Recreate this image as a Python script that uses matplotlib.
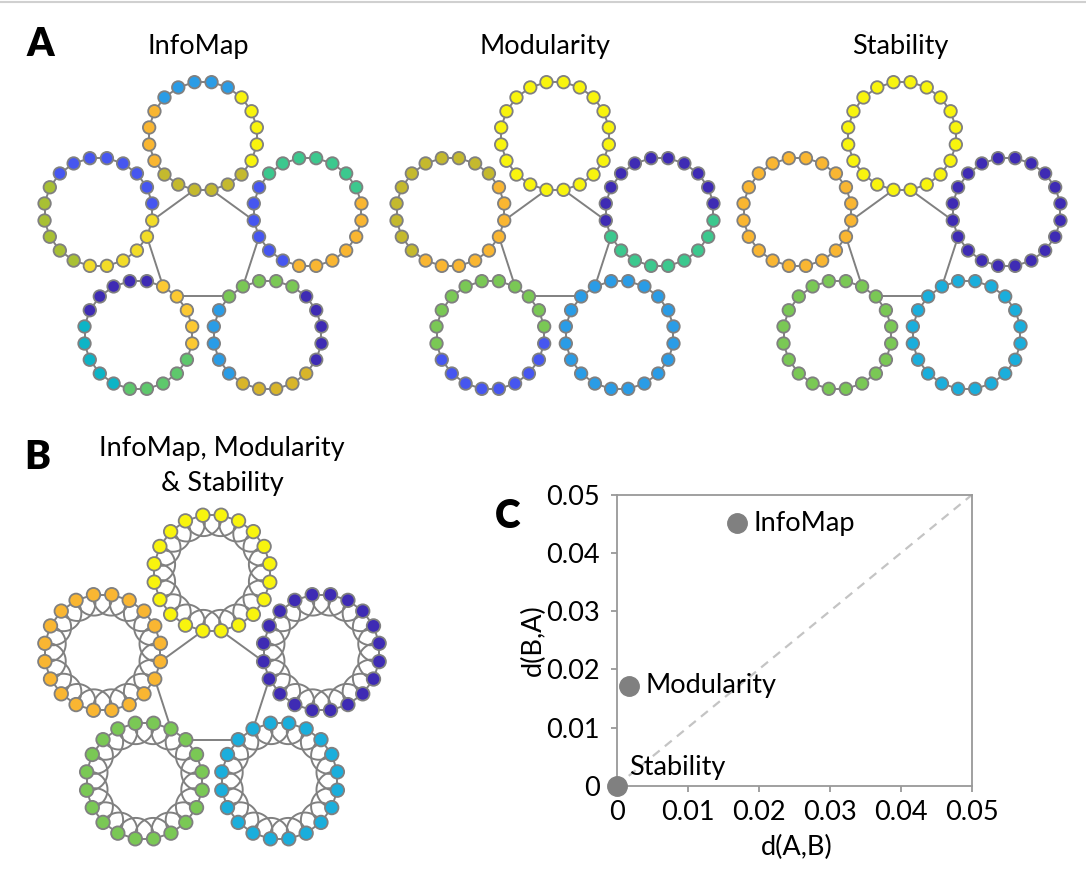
import numpy as np
import matplotlib
matplotlib.use("Agg")
import matplotlib.pyplot as plt
from matplotlib.collections import LineCollection

plt.rcParams['font.family'] = ['Lato', 'DejaVu Sans']

# ---------------------------------------------------------------------------
# Ring-of-rings network: 5 rings x 20 nodes. Each ring string lists the
# community colour code of nodes 0..19, clockwise from the inter-ring connector.
# Ring order (clockwise): top, right, bottom-right, bottom-left, left.
# ---------------------------------------------------------------------------
palette = {
    'D': '#3e2bb4',  # dark violet
    'B': '#4656f0',  # royal blue
    'L': '#2a9ce6',  # light blue
    'S': '#1aaedc',  # sky blue
    'C': '#0db4c6',  # cyan
    'T': '#3cc88e',  # teal
    'G': '#7ac855',  # green
    'E': '#5ec86c',  # green (second shade)
    'X': '#a8c034',  # yellow-green
    'O': '#c4b92e',  # olive
    'K': '#d8b52a',  # gold
    'W': '#fcc932',  # amber
    'Z': '#f2dc28',  # lemon
    'A': '#f9b632',  # orange
    'Y': '#f8f40e',  # yellow
}

infomap_rings = [
    "OOOAAAALLLLLYYYYYOOO",
    "BBBTTTTTTTAAAAAAABBB",
    "GGGGDDDDDKKKKKLLLLLG",
    "WWWWEEEEECCCCCDDDDDW",
    "ZZZZZXXXXXXBBBBBBBBZ",
]
modularity_rings = [
    "YYYYYYYYYYYYYYYYYYYY",
    "DDDDDDDDDDDTTTTTTTTT",
    "LLLLLLLLLLLLLLLLLLLL",
    "GGGBBBBBBBBBGGGGGGGG",
    "AAAAAAOOOOOOOOOOOAAA",
]
stability_rings = [
    "YYYYYYYYYYYYYYYYYYYY",
    "DDDDDDDDDDDDDDDDDDDD",
    "SSSSSSSSSSSSSSSSSSSS",
    "GGGGGGGGGGGGGGGGGGGG",
    "AAAAAAAAAAAAAAAAAAAA",
]

# Panel C: asymmetric distances between partitions
methods = ['InfoMap', 'Modularity', 'Stability']
d_ab = [0.0169, 0.0018, 0.0]
d_ba = [0.0451, 0.0172, 0.0]
axis_ticks = [0, 0.01, 0.02, 0.03, 0.04, 0.05]
tick_labels = ['0', '0.01', '0.02', '0.03', '0.04', '0.05']

W, H = 1086, 872
fig = plt.figure(figsize=(W / 100, H / 100), dpi=100)
canvas = fig.add_axes([0, 0, 1, 1])
canvas.set_xlim(0, W)
canvas.set_ylim(H, 0)
canvas.axis('off')

EDGE = '#808080'
N_RING, N_NODE = 5, 20


def ring_layout(cx, cy, dist, rad):
    """Node positions (screen pixels, y down) for the ring-of-rings graph."""
    pos = np.zeros((N_RING, N_NODE, 2))
    centres = np.zeros((N_RING, 2))
    for k in range(N_RING):
        psi = np.deg2rad(90 - 72 * k)
        rcx, rcy = cx + dist * np.cos(psi), cy - dist * np.sin(psi)
        for j in range(N_NODE):
            a = psi + np.pi - np.deg2rad(9 + 18 * j)
            pos[k, j] = (rcx + rad * np.cos(a), rcy - rad * np.sin(a))
        centres[k] = (rcx, rcy)
    return pos, centres


def draw_network(cx, cy, rings, dist, rad, node_px, second_links=False):
    pos, centres = ring_layout(cx, cy, dist, rad)
    segs = []
    for k in range(N_RING):
        for j in range(N_NODE):
            segs.append([pos[k, j], pos[k, (j + 1) % N_NODE]])
        segs.append([pos[k, 0], pos[(k - 1) % N_RING, N_NODE - 1]])
    canvas.add_collection(LineCollection(segs, colors=EDGE, linewidths=1.4, zorder=1))

    if second_links:
        arcs = []
        t = np.linspace(0, np.pi, 30)
        for k in range(N_RING):
            for j in range(N_NODE):
                p0, p2 = pos[k, j], pos[k, (j + 2) % N_NODE]
                mid = (p0 + p2) / 2
                half = (p2 - p0) / 2
                hl = np.hypot(*half)
                n = centres[k] - mid
                n = n / np.hypot(*n)
                pts = mid + np.outer(np.cos(t), half) + np.outer(np.sin(t), n * hl)
                arcs.append(pts)
        canvas.add_collection(LineCollection(arcs, colors=EDGE, linewidths=1.4, zorder=1))

    cols = [palette[c] for ring in rings for c in ring]
    d_pt = node_px * 72 / 100
    canvas.scatter(pos[:, :, 0].ravel(), pos[:, :, 1].ravel(), s=d_pt ** 2,
                   c=cols, edgecolors=EDGE, linewidths=1.3, zorder=3)


# Panel A: three partitions
draw_network(203, 246, infomap_rings, 110, 54.5, 12.5)
draw_network(555, 246, modularity_rings, 110, 54.5, 12.5)
draw_network(902, 246, stability_rings, 110, 54.5, 12.5)

# Panel B: network with second-neighbour links, common partition
draw_network(212, 688, stability_rings, 115, 58.5, 13.5, second_links=True)

title_fs = 19.5
canvas.text(27, 56, 'A', fontsize=28, fontweight='heavy', ha='left', va='baseline')
canvas.text(24, 469, 'B', fontsize=28, fontweight='heavy', ha='left', va='baseline')
canvas.text(495, 528, 'C', fontsize=28, fontweight='heavy', ha='left', va='baseline')
canvas.text(198, 54, 'InfoMap', fontsize=title_fs, ha='center', va='baseline')
canvas.text(545, 54, 'Modularity', fontsize=title_fs, ha='center', va='baseline')
canvas.text(900, 54, 'Stability', fontsize=title_fs, ha='center', va='baseline')
canvas.text(222, 456, 'InfoMap, Modularity', fontsize=title_fs, ha='center', va='baseline')
canvas.text(222, 491, '& Stability', fontsize=title_fs, ha='center', va='baseline')
canvas.plot([0, W], [2, 2], color='#d0d0d0', lw=1.5)

# Panel C: scatter of d(A,B) vs d(B,A)
ax = fig.add_axes([616.7 / W, (H - 785.7) / H, 355 / W, 290.7 / H])
ax.set_xlim(0, 0.05)
ax.set_ylim(0, 0.05)
ax.plot([0, 0.05], [0, 0.05], ls=(0, (4, 3)), color='#c4c4c4', lw=1.6, zorder=1)
ax.scatter(d_ab, d_ba, s=14 ** 2, color='#808080', zorder=3, clip_on=False)
offsets = {'InfoMap': (12, 0), 'Modularity': (11.5, 0), 'Stability': (9, 13)}
for m, x, y in zip(methods, d_ab, d_ba):
    ax.annotate(m, (x, y), xytext=offsets[m], textcoords='offset points',
                ha='left', va='center', fontsize=19.5, annotation_clip=False)
for sp in ax.spines.values():
    sp.set_color('#999999')
    sp.set_linewidth(1.3)
ax.set_xticks(axis_ticks)
ax.set_xticklabels(tick_labels)
ax.set_yticks(axis_ticks)
ax.set_yticklabels(tick_labels)
ax.tick_params(axis='both', labelsize=19.5, color='#999999', length=4, width=1.3)
ax.tick_params(axis='x', pad=6)
ax.tick_params(axis='y', pad=8)
canvas.text(797, 847, 'd(A,B)', fontsize=19.5, ha='center', va='center')
canvas.text(533, 640, 'd(B,A)', fontsize=19.5, ha='center', va='center', rotation=90)

fig.savefig('out.png', dpi=100)
